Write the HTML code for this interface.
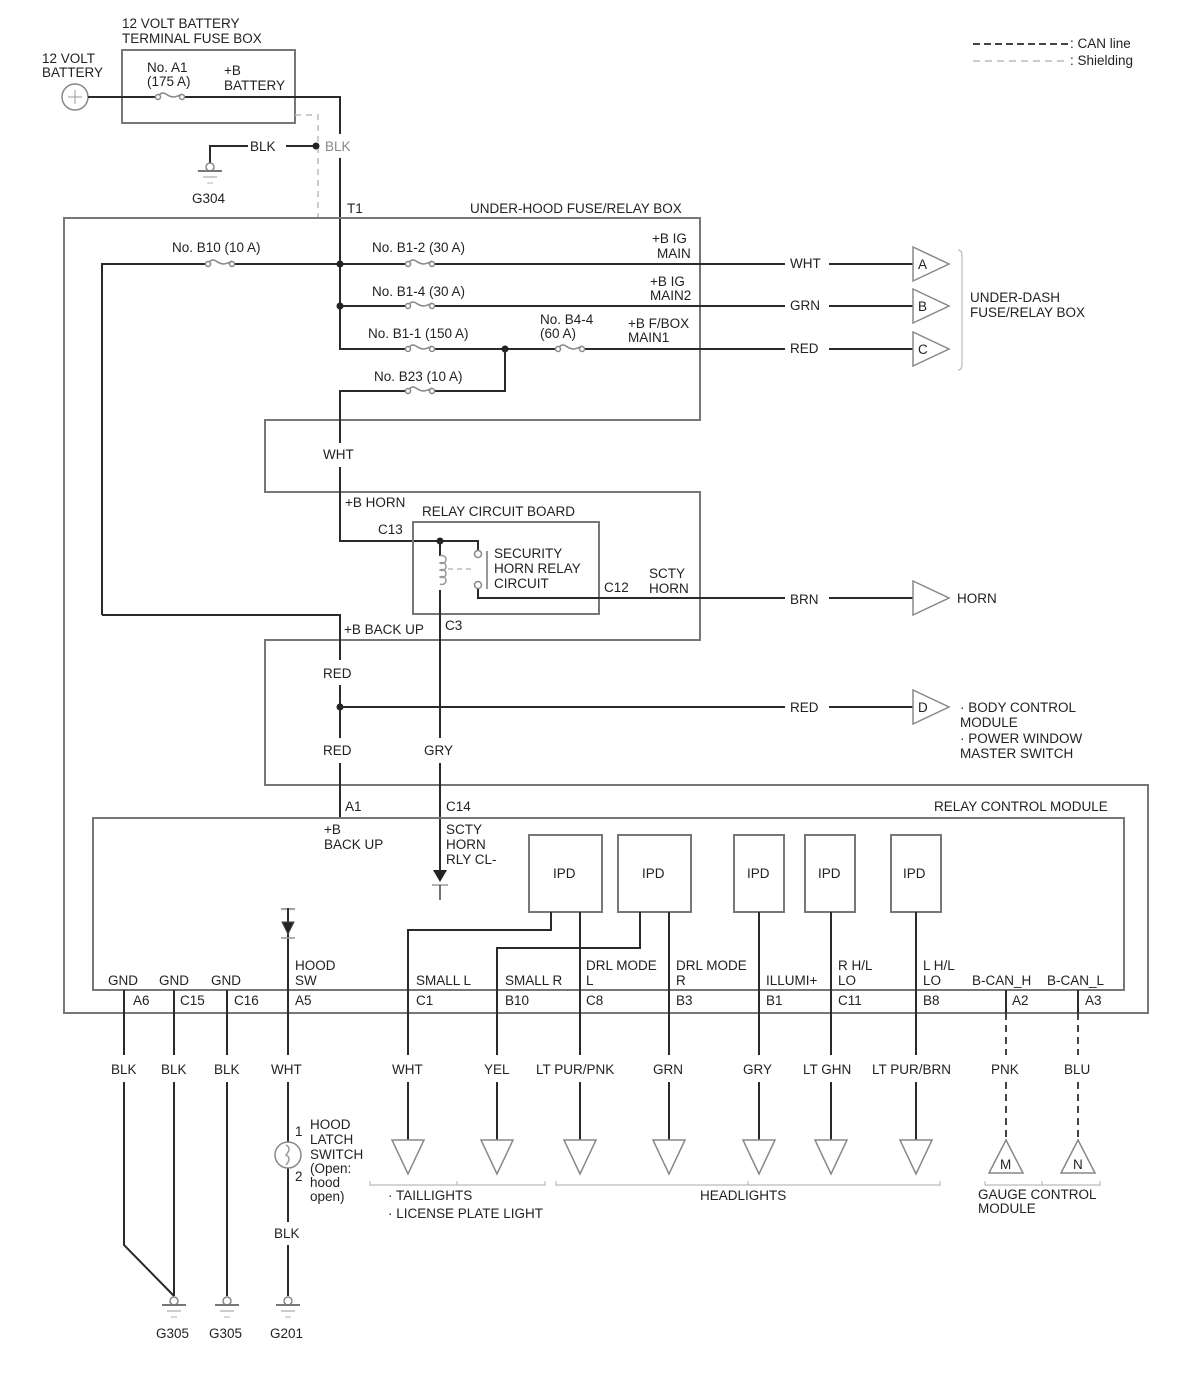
<!DOCTYPE html>
<html><head><meta charset="utf-8"><style>
html,body{margin:0;padding:0;background:#fff;}
svg{display:block;}
text{font-family:"Liberation Sans",sans-serif;font-size:13.5px;fill:#222;}
.w{stroke:#2a2a2a;stroke-width:2;fill:none;}
.b{stroke:#777;stroke-width:2;fill:none;}
.bt{stroke:#888;stroke-width:1.5;fill:none;}
.f{stroke:#888;stroke-width:1.5;fill:#fff;}
</style></head><body>
<svg width="1200" height="1380" viewBox="0 0 1200 1380" xmlns="http://www.w3.org/2000/svg">
<defs>
<g id="fuse"><rect x="-13" y="-5" width="26" height="10" fill="#fff"/><path d="M-12,0 q3,-6 8,-3 q4,3 8,3 q5,-1 8,-3" stroke="#888" stroke-width="1.5" fill="none"/><circle cx="-12" cy="0" r="2.5" class="f"/><circle cx="12" cy="0" r="2.5" class="f"/></g>
<g id="gnd"><circle cx="0" cy="-4" r="4" class="f"/><line x1="-12" y1="0" x2="12" y2="0" stroke="#777" stroke-width="2"/><line x1="-7" y1="6" x2="7" y2="6" stroke="#bbb" stroke-width="1.5"/><line x1="-3" y1="12" x2="3" y2="12" stroke="#ccc" stroke-width="1.5"/></g>
<g id="tdn"><path d="M-16,0 L16,0 L0,34 Z" class="bt" fill="#fff"/></g>
<g id="trt"><path d="M0,-17 L36,0 L0,17 Z" class="bt" fill="#fff"/></g>
</defs>

<line x1="973" y1="44" x2="1068" y2="44" stroke="#444" stroke-width="2" stroke-dasharray="7,4"/>
<text x="1070" y="48">: CAN line</text>
<line x1="973" y1="61" x2="1068" y2="61" stroke="#bbb" stroke-width="1.5" stroke-dasharray="7,5"/>
<text x="1070" y="65">: Shielding</text>

<text x="42" y="63">12 VOLT</text><text x="42" y="77">BATTERY</text>
<circle cx="75" cy="97" r="13" class="bt"/>
<line x1="68" y1="97" x2="82" y2="97" stroke="#999" stroke-width="1"/><line x1="75" y1="90" x2="75" y2="104" stroke="#999" stroke-width="1"/>
<text x="122" y="28">12 VOLT BATTERY</text><text x="122" y="43">TERMINAL FUSE BOX</text>
<rect x="122" y="50" width="173" height="73" class="b"/>
<text x="147" y="72">No. A1</text><text x="147" y="86">(175 A)</text>
<text x="224" y="75">+B</text><text x="224" y="90">BATTERY</text>
<path d="M88,97 L340,97 L340,134 M340,158 L340,350" class="w"/>
<use href="#fuse" x="170" y="97"/>
<path d="M295,115 L318,115 L318,218" stroke="#bbb" stroke-width="1.5" stroke-dasharray="6,5" fill="none"/>
<path d="M210,166 L210,146 L248,146" class="w"/><text x="250" y="151">BLK</text>
<line x1="286" y1="146" x2="316" y2="146" class="w"/><circle cx="316" cy="146" r="3.5" fill="#222"/>
<text x="325" y="151" style="fill:#888">BLK</text>
<use href="#gnd" x="210" y="171"/><text x="192" y="203">G304</text>
<text x="347" y="213">T1</text>
<text x="470" y="213">UNDER-HOOD FUSE/RELAY BOX</text>

<path d="M64,218 L700,218 L700,420 L265,420 L265,492 L700,492 L700,640 L265,640 L265,785 L1148,785 L1148,1013 L64,1013 Z" class="b"/>

<text x="172" y="252">No. B10 (10 A)</text>
<text x="372" y="252">No. B1-2 (30 A)</text>
<text x="652" y="243">+B IG</text><text x="657" y="258">MAIN</text>
<path d="M102,615 L102,264 L785,264" class="w"/>
<use href="#fuse" x="220" y="264"/><use href="#fuse" x="420" y="264"/>
<circle cx="340" cy="264" r="3.5" fill="#222"/>
<text x="790" y="268">WHT</text><line x1="829" y1="264" x2="913" y2="264" class="w"/>
<use href="#trt" x="913" y="264"/><text x="918" y="269">A</text>

<text x="372" y="296">No. B1-4 (30 A)</text>
<text x="650" y="286">+B IG</text><text x="650" y="300">MAIN2</text>
<line x1="340" y1="306" x2="785" y2="306" class="w"/><use href="#fuse" x="420" y="306"/>
<circle cx="340" cy="306" r="3.5" fill="#222"/>
<text x="790" y="310">GRN</text><line x1="829" y1="306" x2="913" y2="306" class="w"/>
<use href="#trt" x="913" y="306"/><text x="918" y="311">B</text>

<text x="368" y="338">No. B1-1 (150 A)</text>
<text x="540" y="324">No. B4-4</text><text x="540" y="338">(60 A)</text>
<text x="628" y="328">+B F/BOX</text><text x="628" y="342">MAIN1</text>
<line x1="340" y1="349" x2="785" y2="349" class="w"/><use href="#fuse" x="420" y="349"/><use href="#fuse" x="570" y="349"/>
<circle cx="505" cy="349" r="3.5" fill="#222"/>
<text x="790" y="353">RED</text><line x1="829" y1="349" x2="913" y2="349" class="w"/>
<use href="#trt" x="913" y="349"/><text x="918" y="354">C</text>
<path d="M958,250 Q962,250 962,256 L962,364 Q962,370 958,370" stroke="#bbb" stroke-width="1.2" fill="none"/>
<text x="970" y="302">UNDER-DASH</text><text x="970" y="317">FUSE/RELAY BOX</text>

<text x="374" y="381">No. B23 (10 A)</text>
<path d="M505,349 L505,391 L340,391 L340,443" class="w"/><use href="#fuse" x="420" y="391"/>
<text x="323" y="459">WHT</text>
<path d="M340,467 L340,541 L478,541 L478,550" class="w"/>
<text x="345" y="507">+B HORN</text>
<text x="422" y="516">RELAY CIRCUIT BOARD</text>
<rect x="413" y="522" width="186" height="92" class="b"/>
<text x="378" y="534">C13</text>
<circle cx="440" cy="541" r="3.5" fill="#222"/>
<line x1="440" y1="541" x2="440" y2="556" class="w"/>
<path d="M440,556 a4,4 0 1 1 0,7 a4,4 0 1 1 0,7 a4,4 0 1 1 0,7 a4,4 0 1 1 0,7" stroke="#999" stroke-width="1.5" fill="none"/>
<line x1="448" y1="569" x2="472" y2="569" stroke="#bbb" stroke-width="1.5" stroke-dasharray="5,4"/>
<circle cx="478" cy="554" r="3.5" class="f"/><circle cx="478" cy="585" r="3.5" class="f"/>
<line x1="487" y1="551" x2="487" y2="589" stroke="#999" stroke-width="2"/>
<path d="M478,589 L478,598 L785,598" class="w"/>
<text x="494" y="558">SECURITY</text><text x="494" y="573">HORN RELAY</text><text x="494" y="588">CIRCUIT</text>
<text x="604" y="592">C12</text>
<text x="649" y="578">SCTY</text><text x="649" y="593">HORN</text>
<text x="790" y="604">BRN</text><line x1="829" y1="598" x2="913" y2="598" class="w"/>
<use href="#trt" x="913" y="598"/><text x="957" y="603">HORN</text>

<path d="M102,615 L340,615 L340,660" class="w"/>
<text x="344" y="634">+B BACK UP</text>
<text x="445" y="630">C3</text>
<line x1="440" y1="590" x2="440" y2="738" class="w"/>
<text x="323" y="678">RED</text>
<line x1="340" y1="685" x2="340" y2="738" class="w"/>
<circle cx="340" cy="707" r="3.5" fill="#222"/>
<line x1="340" y1="707" x2="785" y2="707" class="w"/>
<text x="790" y="712">RED</text><line x1="829" y1="707" x2="913" y2="707" class="w"/>
<use href="#trt" x="913" y="707"/><text x="918" y="712">D</text>
<text x="960" y="712">· BODY CONTROL</text><text x="960" y="727">MODULE</text>
<text x="960" y="743">· POWER WINDOW</text><text x="960" y="758">MASTER SWITCH</text>
<text x="323" y="755">RED</text><text x="424" y="755">GRY</text>
<line x1="340" y1="763" x2="340" y2="818" class="w"/>
<line x1="440" y1="763" x2="440" y2="880" class="w"/>
<path d="M433,870 L447,870 L440,882 Z" fill="#222"/><line x1="432" y1="885" x2="448" y2="885" stroke="#999" stroke-width="1.5"/><line x1="440" y1="885" x2="440" y2="900" stroke="#444" stroke-width="1.5"/>
<text x="345" y="811">A1</text><text x="446" y="811">C14</text>
<text x="934" y="811">RELAY CONTROL MODULE</text>

<rect x="93" y="818" width="1031" height="172" class="b"/>
<text x="324" y="834">+B</text><text x="324" y="849">BACK UP</text>
<text x="446" y="834">SCTY</text><text x="446" y="849">HORN</text><text x="446" y="864">RLY CL-</text>

<rect x="529" y="835" width="73" height="77" class="b"/><text x="553" y="878">IPD</text>
<rect x="618" y="835" width="73" height="77" class="b"/><text x="642" y="878">IPD</text>
<rect x="734" y="835" width="50" height="77" class="b"/><text x="747" y="878">IPD</text>
<rect x="805" y="835" width="50" height="77" class="b"/><text x="818" y="878">IPD</text>
<rect x="891" y="835" width="50" height="77" class="b"/><text x="903" y="878">IPD</text>

<path d="M551,912 L551,930 L408,930 L408,1055" class="w"/>
<line x1="580" y1="912" x2="580" y2="1055" class="w"/>
<path d="M640,912 L640,948 L497,948 L497,1055" class="w"/>
<line x1="669" y1="912" x2="669" y2="1055" class="w"/>
<line x1="759" y1="912" x2="759" y2="1055" class="w"/>
<line x1="831" y1="912" x2="831" y2="1055" class="w"/>
<line x1="916" y1="912" x2="916" y2="1055" class="w"/>
<g class="w">
<line x1="408" y1="1082" x2="408" y2="1140"/><line x1="497" y1="1082" x2="497" y2="1140"/><line x1="580" y1="1082" x2="580" y2="1140"/><line x1="669" y1="1082" x2="669" y2="1140"/><line x1="759" y1="1082" x2="759" y2="1140"/><line x1="831" y1="1082" x2="831" y2="1140"/><line x1="916" y1="1082" x2="916" y2="1140"/>
</g>
<use href="#tdn" x="408" y="1140"/><use href="#tdn" x="497" y="1140"/><use href="#tdn" x="580" y="1140"/><use href="#tdn" x="669" y="1140"/><use href="#tdn" x="759" y="1140"/><use href="#tdn" x="831" y="1140"/><use href="#tdn" x="916" y="1140"/>

<line x1="1006" y1="990" x2="1006" y2="1013" class="w"/><line x1="1078" y1="990" x2="1078" y2="1013" class="w"/>
<g stroke="#444" stroke-width="2" stroke-dasharray="7,5"><line x1="1006" y1="1013" x2="1006" y2="1055"/><line x1="1078" y1="1013" x2="1078" y2="1055"/><line x1="1006" y1="1082" x2="1006" y2="1140"/><line x1="1078" y1="1082" x2="1078" y2="1140"/></g>
<path d="M1006,1140 L1023,1173 L989,1173 Z" class="bt" fill="#fff"/><text x="1000" y="1169">M</text>
<path d="M1078,1140 L1095,1173 L1061,1173 Z" class="bt" fill="#fff"/><text x="1073" y="1169">N</text>

<text x="108" y="985">GND</text><text x="159" y="985">GND</text><text x="211" y="985">GND</text>
<text x="295" y="970">HOOD</text><text x="295" y="985">SW</text>
<text x="416" y="985">SMALL L</text><text x="505" y="985">SMALL R</text>
<text x="586" y="970">DRL MODE</text><text x="586" y="985">L</text>
<text x="676" y="970">DRL MODE</text><text x="676" y="985">R</text>
<text x="766" y="985">ILLUMI+</text>
<text x="838" y="970">R H/L</text><text x="838" y="985">LO</text>
<text x="923" y="970">L H/L</text><text x="923" y="985">LO</text>
<text x="972" y="985">B-CAN_H</text><text x="1047" y="985">B-CAN_L</text>
<text x="133" y="1005">A6</text><text x="180" y="1005">C15</text><text x="234" y="1005">C16</text><text x="295" y="1005">A5</text>
<text x="416" y="1005">C1</text><text x="505" y="1005">B10</text><text x="586" y="1005">C8</text><text x="676" y="1005">B3</text>
<text x="766" y="1005">B1</text><text x="838" y="1005">C11</text><text x="923" y="1005">B8</text><text x="1012" y="1005">A2</text><text x="1085" y="1005">A3</text>

<text x="111" y="1074">BLK</text><text x="161" y="1074">BLK</text><text x="214" y="1074">BLK</text><text x="271" y="1074">WHT</text>
<text x="392" y="1074">WHT</text><text x="484" y="1074">YEL</text><text x="536" y="1074">LT PUR/PNK</text><text x="653" y="1074">GRN</text>
<text x="743" y="1074">GRY</text><text x="803" y="1074">LT GHN</text><text x="872" y="1074">LT PUR/BRN</text>
<text x="991" y="1074">PNK</text><text x="1064" y="1074">BLU</text>

<path d="M124,990 L124,1055 M124,1082 L124,1245 L174,1296 M174,990 L174,1055 M174,1082 L174,1296 M227,990 L227,1055 M227,1082 L227,1296" class="w"/>
<use href="#gnd" x="174" y="1305"/><use href="#gnd" x="227" y="1305"/>
<text x="156" y="1338">G305</text><text x="209" y="1338">G305</text>
<path d="M288,908 L288,1055 M288,1082 L288,1142 M288,1168 L288,1222 M288,1245 L288,1296" class="w"/>
<path d="M281,909 L295,909 M282,922 L294,922 L288,934 Z" fill="#222" stroke="#444" stroke-width="1"/>
<line x1="281" y1="938" x2="295" y2="938" stroke="#999" stroke-width="1.5"/>
<circle cx="288" cy="1155" r="13" class="bt"/>
<path d="M286,1145 q6,3 0,10 q6,3 0,10" stroke="#999" stroke-width="1.5" fill="none"/>
<text x="295" y="1136">1</text><text x="295" y="1181">2</text>
<text x="310" y="1129">HOOD</text><text x="310" y="1144">LATCH</text><text x="310" y="1159">SWITCH</text>
<text x="310" y="1173">(Open:</text><text x="310" y="1187">hood</text><text x="310" y="1201">open)</text>
<text x="274" y="1238">BLK</text>
<use href="#gnd" x="288" y="1305"/><text x="270" y="1338">G201</text>

<path d="M370,1181 L370,1185 L545,1185 L545,1181 M457,1185 L457,1181" stroke="#bbb" stroke-width="1.2" fill="none"/>
<path d="M556,1181 L556,1185 L940,1185 L940,1181 M748,1185 L748,1181" stroke="#bbb" stroke-width="1.2" fill="none"/>
<path d="M985,1181 L985,1185 L1100,1185 L1100,1181 M1042,1185 L1042,1181" stroke="#bbb" stroke-width="1.2" fill="none"/>
<text x="388" y="1200">· TAILLIGHTS</text><text x="388" y="1218">· LICENSE PLATE LIGHT</text>
<text x="700" y="1200">HEADLIGHTS</text>
<text x="978" y="1199">GAUGE CONTROL</text><text x="978" y="1213">MODULE</text>
</svg>
</body></html>
